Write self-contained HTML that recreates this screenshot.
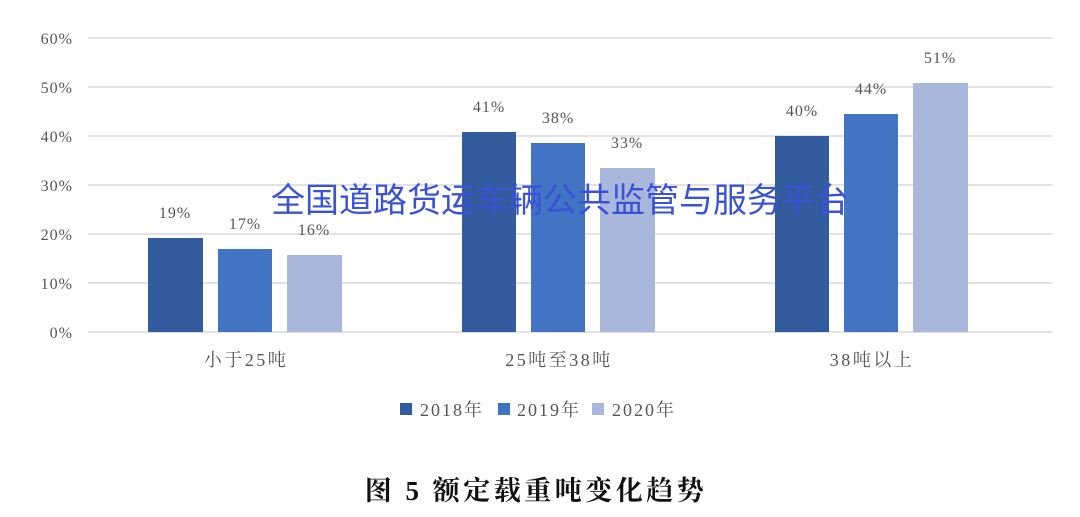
<!DOCTYPE html>
<html><head><meta charset="utf-8"><style>
html,body{margin:0;padding:0;background:#fff;}
svg{display:block;}
text{font-family:"Liberation Serif","Noto Serif CJK SC",serif;fill:#555;}
</style></head><body>
<svg width="1080" height="517" viewBox="0 0 1080 517">
<g stroke="#d9d9d9" stroke-width="1.5">
<line x1="88" y1="38" x2="1052" y2="38"/>
<line x1="88" y1="87" x2="1052" y2="87"/>
<line x1="88" y1="136" x2="1052" y2="136"/>
<line x1="88" y1="185" x2="1052" y2="185"/>
<line x1="88" y1="234" x2="1052" y2="234"/>
<line x1="88" y1="283" x2="1052" y2="283"/>
<line x1="88" y1="332" x2="1052" y2="332"/>
</g>
<g font-size="16" text-anchor="end" letter-spacing="1">
<text x="73" y="44">60%</text><text x="73" y="93">50%</text><text x="73" y="142">40%</text>
<text x="73" y="191">30%</text><text x="73" y="240">20%</text><text x="73" y="289">10%</text><text x="73" y="338">0%</text>
</g>
<g>
<rect x="148" y="238" width="55" height="94" fill="#335c9f"/>
<rect x="218" y="249" width="54" height="83" fill="#4274c4"/>
<rect x="287" y="255" width="55" height="77" fill="#a8b7db"/>
<rect x="462" y="132" width="54" height="200" fill="#335c9f"/>
<rect x="531" y="143" width="54" height="189" fill="#4274c4"/>
<rect x="600" y="168" width="55" height="164" fill="#a8b7db"/>
<rect x="775" y="136" width="54" height="196" fill="#335c9f"/>
<rect x="844" y="114" width="54" height="218" fill="#4274c4"/>
<rect x="913" y="83" width="55" height="249" fill="#a8b7db"/>
</g>
<g font-size="16" text-anchor="middle" letter-spacing="1">
<text x="175" y="218">19%</text><text x="245" y="229">17%</text><text x="314" y="235">16%</text>
<text x="489" y="112">41%</text><text x="558" y="123">38%</text><text x="627" y="148">33%</text>
<text x="802" y="116">40%</text><text x="871" y="94">44%</text><text x="940" y="63">51%</text>
</g>
<g font-size="18" text-anchor="middle" letter-spacing="2.5">
<text x="246" y="366">小于25吨</text>
<text x="559" y="366">25吨至38吨</text>
<text x="872" y="366">38吨以上</text>
</g>
<g font-size="18" letter-spacing="2">
<rect x="400" y="403" width="12" height="12" fill="#335c9f"/><text x="420" y="416">2018年</text>
<rect x="498" y="403" width="12" height="12" fill="#4274c4"/><text x="517" y="416">2019年</text>
<rect x="592" y="403" width="12" height="12" fill="#a8b7db"/><text x="612" y="416">2020年</text>
</g>
<text x="560" y="212" font-size="34" text-anchor="middle" style="font-family:'Liberation Sans','Noto Sans CJK SC',sans-serif;fill:#3a52d8">全国道路货运车辆公共监管与服务平台</text>
<text x="536" y="500" font-size="27" text-anchor="middle" font-weight="bold" letter-spacing="3.5" style="fill:#111">图 5  额定载重吨变化趋势</text>
</svg>
</body></html>
